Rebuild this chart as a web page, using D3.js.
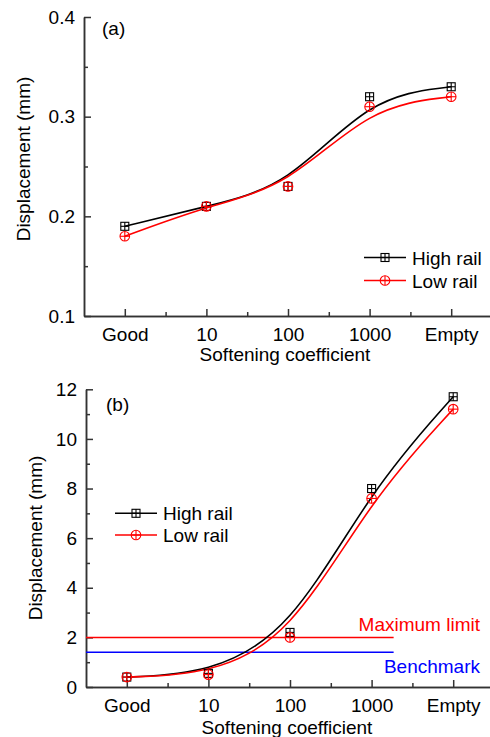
<!DOCTYPE html>
<html><head><meta charset="utf-8">
<script src="https://cdn.jsdelivr.net/npm/d3@7"></script>
<style>
body{margin:0;background:#fff;}
svg text{font-family:"Liberation Sans",Arial,sans-serif;}
</style></head>
<body><svg id="c" width="490" height="737"></svg>
<script>
const categories = ["Good","10","100","1000","Empty"];
const seriesNames = ["High rail","Low rail"];
const aHigh = [0.19,0.21,0.23,0.32,0.33];
const aLow  = [0.18,0.21,0.23,0.31,0.32];
const bHigh = [0.4,0.55,2.2,8.0,11.7];
const bLow  = [0.4,0.5,2.0,7.6,11.2];
const aYTicks = [0.1,0.2,0.3,0.4];
const bYTicks = [0,2,4,6,8,10,12];
const maxLimit = 2;
const benchmark = 1.4;
const refLineEnd = 4.27;

const svg = d3.select("#c");
const FS = 19;

function panel(cfg){
  const g = svg.append("g");
  const x = d3.scaleLinear().domain([0.5,5.5]).range(cfg.xr);
  const y = d3.scaleLinear().domain(cfg.yd).range(cfg.yr);
  const xa = d3.axisBottom(x).tickValues([1,2,3,4,5]).tickFormat((d,i)=>categories[i]).tickSizeInner(-7).tickSizeOuter(0).tickPadding(15);
  const xmin = d3.axisBottom(x).tickValues([1.5,2.5,3.5,4.5]).tickFormat("").tickSizeInner(-4).tickSizeOuter(0);
  const ya = d3.axisLeft(y).tickValues(cfg.yt).tickFormat(cfg.fmt).tickSizeInner(-7).tickSizeOuter(0).tickPadding(9);
  const ymin = d3.axisLeft(y).tickValues(cfg.ymt).tickFormat("").tickSizeInner(-4).tickSizeOuter(0);
  const gx = g.append("g").attr("transform",`translate(0,${cfg.yr[0]})`).call(xa);
  g.append("g").attr("transform",`translate(0,${cfg.yr[0]})`).call(xmin);
  g.append("g").attr("transform",`translate(${cfg.xr[0]},0)`).call(ya);
  g.append("g").attr("transform",`translate(${cfg.xr[0]},0)`).call(ymin);
  g.selectAll(".domain,.tick line").attr("stroke","#333").attr("stroke-width",1.5);
  g.selectAll(".tick text").attr("font-size",FS).attr("fill","#000").style("font-family","Liberation Sans, Arial, sans-serif");
  gx.selectAll(".tick text").attr("dy","0.5em");

  if(cfg.refs){
    cfg.refs.forEach(r=>{
      g.append("line").attr("x1",x(0.5)).attr("x2",x(refLineEnd)).attr("y1",y(r.v)).attr("y2",y(r.v))
        .attr("stroke",r.c).attr("stroke-width",1.5);
      g.append("text").attr("x",480).attr("y",y(r.v)+r.dy).attr("text-anchor","end").attr("font-size",FS).attr("fill",r.c).text(r.t);
    });
  }

  const line = d3.line().x((d,i)=>x(i+1)).y(d=>y(d)).curve(d3.curveBasis);
  const sers = [{v:cfg.high,c:"#000",m:"sq"},{v:cfg.low,c:"#ff0000",m:"ci"}];
  sers.forEach(s=>{
    g.append("path").attr("d",line(s.v)).attr("fill","none").attr("stroke",s.c).attr("stroke-width",1.6);
  });
  function marker(sel,type,cx,cy,c){
    if(type==="sq"){
      sel.append("rect").attr("x",cx-4).attr("y",cy-4).attr("width",8).attr("height",8).attr("fill","none").attr("stroke",c).attr("stroke-width",1.1);
      sel.append("line").attr("x1",cx-4).attr("x2",cx+4).attr("y1",cy).attr("y2",cy).attr("stroke",c).attr("stroke-width",1.1);
      sel.append("line").attr("x1",cx).attr("x2",cx).attr("y1",cy-4).attr("y2",cy+4).attr("stroke",c).attr("stroke-width",1.1);
    } else {
      sel.append("circle").attr("cx",cx).attr("cy",cy).attr("r",4.8).attr("fill","none").attr("stroke",c).attr("stroke-width",1.1);
      sel.append("line").attr("x1",cx-4.8).attr("x2",cx+4.8).attr("y1",cy).attr("y2",cy).attr("stroke",c).attr("stroke-width",1.1);
      sel.append("line").attr("x1",cx).attr("x2",cx).attr("y1",cy-4.8).attr("y2",cy+4.8).attr("stroke",c).attr("stroke-width",1.1);
    }
  }
  sers.forEach(s=>{
    s.v.forEach((d,i)=>marker(g,s.m,x(i+1),y(d),s.c));
  });

  sers.forEach((s,i)=>{
    const ly = cfg.leg[1]+i*cfg.leg[2];
    g.append("line").attr("x1",cfg.leg[0]).attr("x2",cfg.leg[0]+42).attr("y1",ly).attr("y2",ly).attr("stroke",s.c).attr("stroke-width",1.6);
    marker(g,s.m,cfg.leg[0]+21,ly,s.c);
    g.append("text").attr("x",cfg.leg[0]+48).attr("y",ly+7).attr("font-size",FS).attr("fill","#000").text(seriesNames[i]);
  });

  g.append("text").attr("x",cfg.lab[0]).attr("y",cfg.lab[1]).attr("font-size",FS).text(cfg.lab[2]);
  g.append("text").attr("x",(cfg.xr[0]+x(5.5))/2 - 3).attr("y",cfg.xt).attr("text-anchor","middle").attr("font-size",FS).text("Softening coefficient");
  g.append("text").attr("transform",`translate(${cfg.yt2[0]},${cfg.yt2[1]}) rotate(-90)`).attr("text-anchor","middle").attr("font-size",FS).text("Displacement (mm)");
}

panel({xr:[84,492], yd:[0.1,0.4], yr:[316,17], yt:aYTicks, ymt:[0.15,0.25,0.35], fmt:d3.format(".1f"),
  high:aHigh, low:aLow, leg:[364,257.5,23], lab:[102,35,"(a)"], xt:361, yt2:[30,159]});
panel({xr:[86,494], yd:[0,12], yr:[687,389.3], yt:bYTicks, ymt:[1,3,5,7,9,11], fmt:d3.format("d"),
  high:bHigh, low:bLow, leg:[115,513.3,21.7], lab:[106,411,"(b)"], xt:734, yt2:[42,538],
  refs:[{v:maxLimit,c:"#ff0000",t:"Maximum limit",dy:-6},{v:benchmark,c:"#0000ff",t:"Benchmark",dy:21}]});
</script></body></html>
